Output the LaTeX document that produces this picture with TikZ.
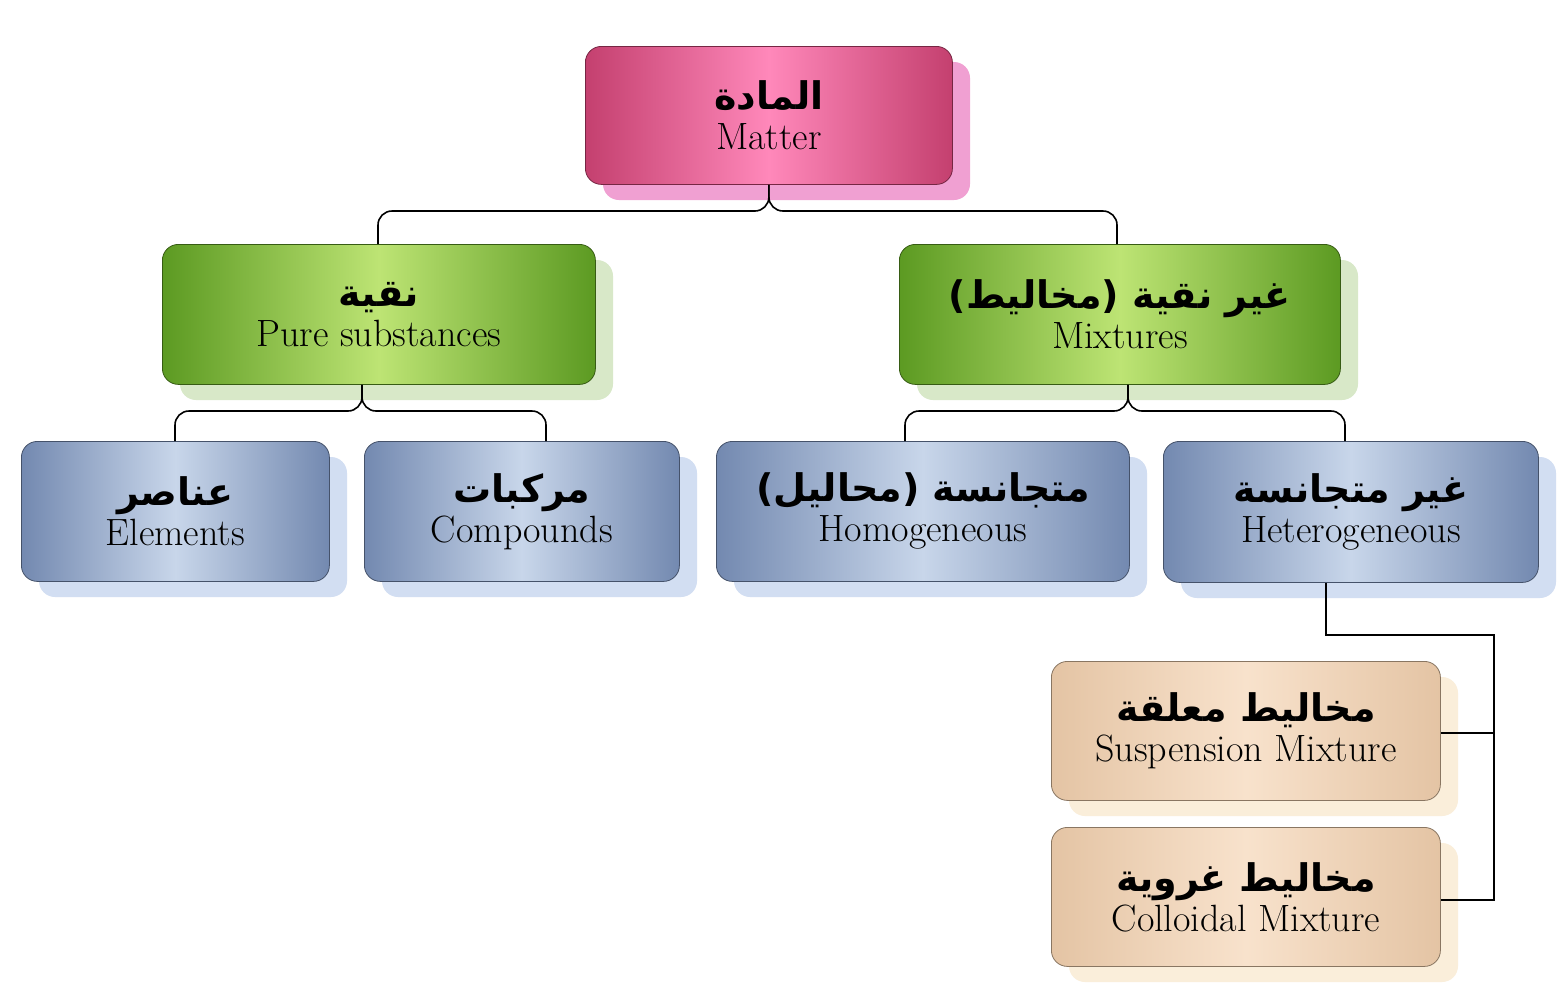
\documentclass[tikz,border=0pt]{standalone}
\usepackage{fontspec}
\newfontfamily\arabicfont[Script=Arabic]{DejaVu Sans}
\TeXXeTstate=1
\newcommand{\ar}[1]{{\arabicfont\bfseries\beginR #1\endR}}
\begin{document}
\begin{tikzpicture}[x=1pt,y=-1pt,
  box/.style={rounded corners=16pt,draw=#1!60!black,line width=0.8pt,anchor=north west,inner sep=0pt,align=center,font=\fontsize{38}{44}\selectfont},
  conn/.style={line width=1.6pt,rounded corners=14pt},
  el/.style={line width=1.6pt}]
\useasboundingbox[fill=white] (0,0) rectangle (1565,1005);
\definecolor{pkA}{HTML}{C4406F}\definecolor{pkB}{HTML}{FF88BA}\definecolor{pkS}{HTML}{F0A0D2}
\definecolor{grA}{HTML}{5C9A22}\definecolor{grB}{HTML}{BDE474}\definecolor{grS}{HTML}{D8E8C8}
\definecolor{blA}{HTML}{7389B0}\definecolor{blB}{HTML}{C8D6EA}\definecolor{blS}{HTML}{D2DEF2}
\definecolor{tnA}{HTML}{E4C4A4}\definecolor{tnB}{HTML}{F8E2CC}\definecolor{tnS}{HTML}{FAEEDA}
% helper: x1 y1 x2 y2 col name arabic english
\newcommand{\bx}[8]{%
  \fill[#5S,rounded corners=16pt] (#1+18,#2+16) rectangle (#3+18,#4+16);
  \node[box=#5A,minimum width=#3-#1,minimum height=#4-#2,left color=#5A,right color=#5A,middle color=#5B] (#6) at (#1,#2) {\ar{#7}\\[-4pt]#8};}
\bx{585}{46}{952}{184}{pk}{matter}{المادة}{Matter}
\bx{162}{244}{595}{384}{gr}{pure}{نقية}{Pure substances}
\bx{899}{244}{1340}{384}{gr}{mix}{غير نقية (مخاليط)}{Mixtures}
\bx{21}{441}{329}{581}{bl}{elem}{عناصر}{Elements}
\bx{364}{441}{679}{581}{bl}{comp}{مركبات}{Compounds}
\bx{716}{441}{1129}{581}{bl}{homo}{متجانسة (محاليل)}{Homogeneous}
\bx{1163}{441}{1538}{582}{bl}{hete}{غير متجانسة}{Heterogeneous}
\bx{1051}{661}{1440}{800}{tn}{susp}{مخاليط معلقة}{Suspension Mixture}
\bx{1051}{827}{1440}{966}{tn}{coll}{مخاليط غروية}{Colloidal Mixture}
% connectors
\draw[conn] (matter.south) |- (378,211) -- (pure.north-|378,0);
\draw[conn] (matter.south) |- (1117,211) -- (mix.north-|1117,0);
\draw[conn] (pure.south-|362,0) |- (175,411) -- (elem.north-|175,0);
\draw[conn] (pure.south-|362,0) |- (546,411) -- (comp.north-|546,0);
\draw[conn] (mix.south-|1128,0) |- (905,411) -- (homo.north-|905,0);
\draw[conn] (mix.south-|1128,0) |- (1345,411) -- (hete.north-|1345,0);
\coordinate (c1) at (1494,635);
\draw[el] (hete.south-|1326,0) |- (c1) |- (coll.east|-0,900);
\draw[el] (susp.east|-0,733) -- (1494,733);
\end{tikzpicture}
\end{document}
